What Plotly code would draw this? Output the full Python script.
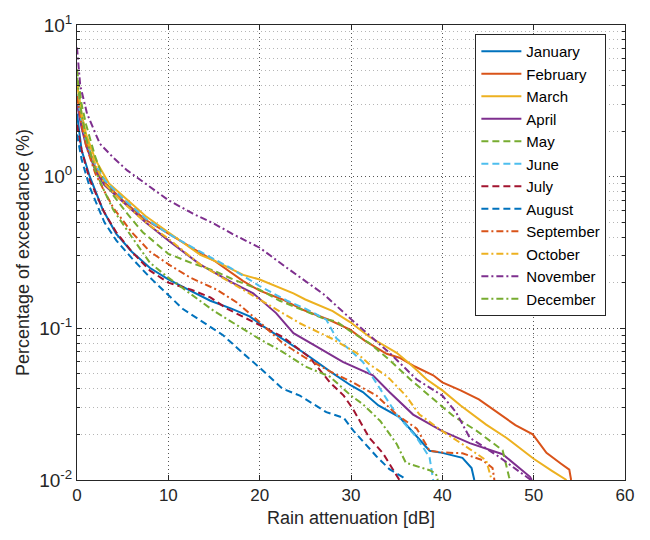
import plotly.graph_objects as go

# ---- data (rain attenuation [dB] vs percentage of exceedance [%]) ----
months = ["January", "February", "March", "April", "May", "June", "July",
          "August", "September", "October", "November", "December"]

jan_x = [0, 0.5, 1.4, 2.8, 4.3, 6, 8, 10, 12.4, 14.6, 16.9, 18.9, 20.4, 22.5, 25, 27.7, 30, 31.3, 33, 35.3, 37, 38.6, 40, 42.2, 43.2, 43.5]
jan_y = [2.6, 1.5, 1.0, 0.61, 0.42, 0.32, 0.25, 0.21, 0.177, 0.152, 0.135, 0.12, 0.103, 0.085, 0.068, 0.052, 0.042, 0.038, 0.031, 0.026, 0.02, 0.0156, 0.0151, 0.014, 0.012, 0.01]

feb_x = [0, 0.5, 1, 2, 3, 5, 7.5, 10, 13.5, 15, 18.2, 20, 22.5, 24.8, 27.7, 29.9, 31.5, 33.9, 35.3, 37, 39, 40, 42, 44, 46, 48, 49.9, 51.4, 53, 53.9, 54.1]
feb_y = [3.4, 2.3, 1.75, 1.15, 0.92, 0.7, 0.52, 0.42, 0.314, 0.28, 0.205, 0.177, 0.155, 0.132, 0.113, 0.098, 0.083, 0.068, 0.064, 0.056, 0.049, 0.044, 0.039, 0.034, 0.028, 0.023, 0.02, 0.0151, 0.0128, 0.0117, 0.01]

mar_x = [0, 0.5, 1, 2, 3.5, 5, 7.5, 10, 13.5, 15, 18.2, 20, 23.7, 25, 28, 29.9, 32, 35, 36.5, 38.3, 40, 42, 44.8, 47, 48, 50, 52, 53.6]
mar_y = [4.1, 2.6, 1.9, 1.3, 0.9, 0.75, 0.55, 0.43, 0.305, 0.28, 0.225, 0.21, 0.17, 0.155, 0.13, 0.11, 0.088, 0.069, 0.058, 0.046, 0.039, 0.031, 0.0232, 0.019, 0.017, 0.0138, 0.0115, 0.01]

apr_x = [0, 0.5, 1, 2, 3, 5, 7.5, 10, 13.5, 17, 19.3, 21.8, 23.7, 26.2, 29.1, 32.4, 34.2, 36.8, 40, 43, 46.6, 49.6, 49.8]
apr_y = [3.0, 2.1, 1.6, 1.1, 0.88, 0.68, 0.5, 0.38, 0.263, 0.2, 0.17, 0.126, 0.093, 0.076, 0.06, 0.049, 0.038, 0.027, 0.021, 0.0175, 0.0148, 0.0105, 0.01]

may_x = [0, 0.5, 1, 2, 2.8, 4, 5.4, 7.2, 10, 12.5, 15, 17.1, 20, 22.2, 25, 27, 28.4, 30, 32, 34.2, 36.5, 38.6, 41.1, 43.8, 46.6, 47.3, 47.4]
may_y = [5.1, 3.0, 2.2, 1.35, 1.0, 0.75, 0.58, 0.43, 0.31, 0.27, 0.24, 0.21, 0.18, 0.152, 0.13, 0.116, 0.111, 0.095, 0.08, 0.062, 0.046, 0.036, 0.0267, 0.021, 0.0157, 0.0105, 0.01]

jun_x = [0, 0.5, 1, 2, 3, 5, 7.5, 10, 13.5, 16.8, 20, 23, 25, 27.3, 28.4, 29.9, 31.3, 33.2, 35, 37.2, 38.6, 39]
jun_y = [3.5, 2.3, 1.7, 1.2, 0.95, 0.72, 0.53, 0.42, 0.32, 0.25, 0.19, 0.152, 0.135, 0.114, 0.086, 0.072, 0.06, 0.04, 0.027, 0.019, 0.0141, 0.01]

jul_x = [0, 0.5, 1.4, 3, 4.3, 6, 8, 10, 12.5, 14.6, 16.4, 19.7, 22.5, 24.4, 25.5, 27.7, 29.2, 30.2, 32, 33.5, 35.3]
jul_y = [2.2, 1.5, 0.95, 0.58, 0.43, 0.32, 0.24, 0.2, 0.18, 0.16, 0.135, 0.107, 0.088, 0.072, 0.064, 0.044, 0.036, 0.0295, 0.019, 0.015, 0.01]

aug_x = [0, 0.5, 1.4, 3, 4.3, 6, 8, 10.2, 11.6, 13.5, 16, 18, 20, 22.5, 24.4, 27.3, 29.2, 30.3, 32.8, 34.2, 35.7, 36]
aug_y = [1.9, 1.3, 0.85, 0.5, 0.38, 0.29, 0.216, 0.16, 0.134, 0.113, 0.09, 0.07, 0.055, 0.04, 0.036, 0.028, 0.0257, 0.021, 0.0143, 0.0118, 0.0104, 0.01]

sep_x = [0, 0.5, 1, 2, 3, 4, 6, 8, 10.2, 12.4, 15.3, 17.5, 20, 22.5, 25, 27.7, 30.2, 32.8, 35, 37.2, 38.6, 40, 42.2, 44.4, 45.5, 45.7]
sep_y = [3.4, 2.2, 1.6, 1.05, 0.8, 0.62, 0.43, 0.32, 0.26, 0.216, 0.18, 0.148, 0.11, 0.08, 0.064, 0.052, 0.044, 0.036, 0.027, 0.0218, 0.0156, 0.0152, 0.015, 0.0135, 0.012, 0.01]

oct_x = [0, 0.5, 1, 2, 3, 5, 7.5, 10, 13.5, 17.1, 20.8, 24.4, 28, 30.6, 32, 34, 36, 37.5, 40, 43, 44.8, 45.4]
oct_y = [4.1, 2.5, 1.8, 1.2, 0.9, 0.68, 0.5, 0.39, 0.263, 0.195, 0.145, 0.108, 0.085, 0.069, 0.058, 0.048, 0.036, 0.027, 0.021, 0.016, 0.0135, 0.01]

nov_x = [0, 0.35, 1.1, 2.5, 4, 5.5, 7.5, 10, 12.7, 15, 17, 20, 23, 25, 27, 30, 32, 34.2, 37.2, 40, 41.5, 43, 46, 49.7]
nov_y = [7.1, 4.0, 2.6, 1.65, 1.33, 1.1, 0.9, 0.7, 0.57, 0.49, 0.42, 0.34, 0.25, 0.205, 0.168, 0.115, 0.09, 0.069, 0.046, 0.036, 0.028, 0.019, 0.0145, 0.01]

dec_x = [0, 0.5, 1, 2, 3, 4, 6, 8, 10, 12.5, 13.5, 15, 17.5, 20, 22.5, 25, 27.7, 30, 31.3, 33.2, 35, 36, 38.6, 39.3, 39.5]
dec_y = [4.5, 2.6, 1.8, 1.1, 0.8, 0.6, 0.4, 0.27, 0.216, 0.168, 0.152, 0.13, 0.105, 0.085, 0.07, 0.056, 0.048, 0.036, 0.0316, 0.0245, 0.0173, 0.013, 0.0116, 0.011, 0.01]

series_x = [jan_x, feb_x, mar_x, apr_x, may_x, jun_x, jul_x, aug_x, sep_x, oct_x, nov_x, dec_x]
series_y = [jan_y, feb_y, mar_y, apr_y, may_y, jun_y, jul_y, aug_y, sep_y, oct_y, nov_y, dec_y]

x_ticks = [0, 10, 20, 30, 40, 50, 60]
y_ticks = [0.01, 0.1, 1, 10]
y_ticktext = ["10<sup>-2</sup>", "10<sup>-1</sup>", "10<sup>0</sup>", "10<sup>1</sup>"]
y_minor_ticks = [m * d for d in (0.01, 0.1, 1) for m in range(2, 10)]

# ---- styles ----
colors = ["#0072BD", "#D95319", "#EDB120", "#7E2F8E", "#77AC30", "#4DBEEE",
          "#A2142F", "#0072BD", "#D95319", "#EDB120", "#7E2F8E", "#77AC30"]
dashes = (["solid"] * 4) + (["7px,4px"] * 4) + (["7px,3px,2px,3px"] * 4)

fig = go.Figure()
for name, xs, ys, c, d in zip(months, series_x, series_y, colors, dashes):
    fig.add_trace(go.Scatter(x=xs, y=ys, mode="lines", name=name,
                             line=dict(color=c, width=2, dash=d)))

axis_col = "#262626"
font_family = "Liberation Sans, Arial, sans-serif"

fig.update_layout(
    width=650, height=540,
    margin=dict(l=77, r=25, t=15, b=60),
    paper_bgcolor="white", plot_bgcolor="white",
    font=dict(family=font_family, size=17, color=axis_col),
    showlegend=True,
    legend=dict(x=0.966, y=0.98, xanchor="right", yanchor="top",
                bgcolor="white", bordercolor=axis_col, borderwidth=1,
                font=dict(size=15, color="black"), tracegroupgap=0,
                itemwidth=40),
)

fig.update_xaxes(
    range=[0, 60], tickmode="array", tickvals=x_ticks, ticks="inside", ticklen=5,
    tickcolor=axis_col,
    showline=True, linecolor=axis_col, linewidth=1, mirror="allticks",
    showgrid=True, gridcolor="#555555", griddash="1px,3px", gridwidth=1,
    zeroline=False, tickfont=dict(size=17),
    title=dict(text="Rain attenuation [dB]", font=dict(size=18), standoff=6),
)
fig.update_yaxes(
    type="log", range=[-2, 1], tickmode="array", tickvals=y_ticks, ticktext=y_ticktext,
    ticks="inside", ticklen=5, tickcolor=axis_col,
    showline=True, linecolor=axis_col, linewidth=1, mirror="allticks",
    showgrid=True, gridcolor="#555555", griddash="1px,3px", gridwidth=1,
    minor=dict(tickmode="array", tickvals=y_minor_ticks, ticks="inside", ticklen=3,
               tickcolor=axis_col, showgrid=True,
               gridcolor="#b5b5b5", griddash="1px,3px", gridwidth=1),
    zeroline=False, tickfont=dict(size=19),
    title=dict(text="Percentage of exceedance (%)", font=dict(size=18), standoff=4),
)

fig.write_html("out.html")
